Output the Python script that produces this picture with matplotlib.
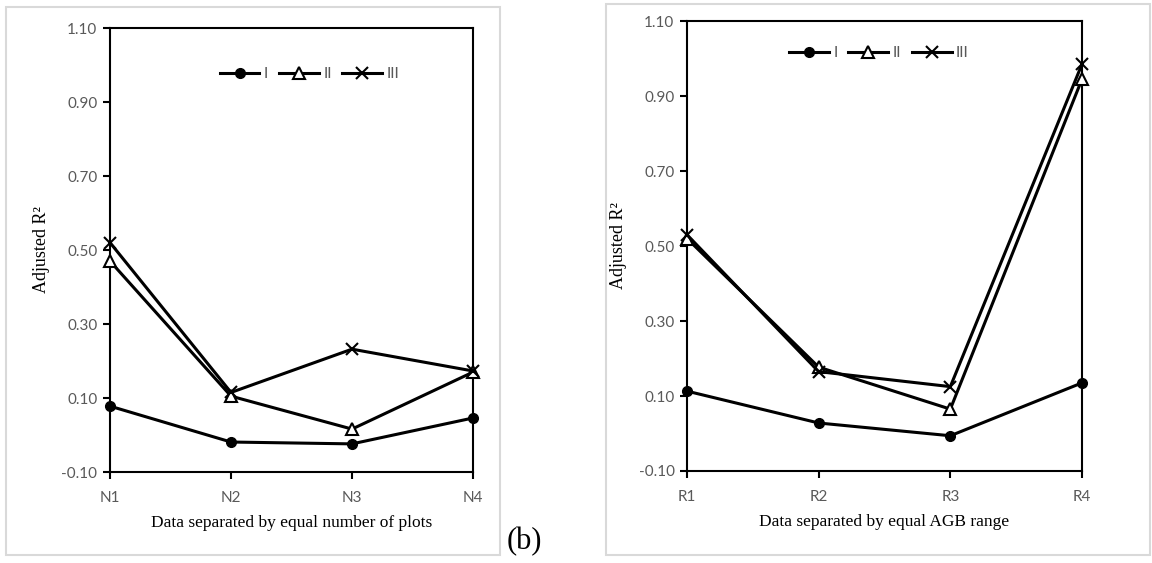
import matplotlib
matplotlib.use("Agg")
import matplotlib.pyplot as plt
from matplotlib.patches import Rectangle

# Adjusted R² per subset, for the three model sets
n_labels = ["N1", "N2", "N3", "N4"]
n_I = [0.078, -0.019, -0.024, 0.046]
n_II = [0.470, 0.105, 0.016, 0.170]
n_III = [0.520, 0.115, 0.232, 0.173]

r_labels = ["R1", "R2", "R3", "R4"]
r_I = [0.113, 0.028, -0.006, 0.135]
r_II = [0.520, 0.177, 0.065, 0.945]
r_III = [0.530, 0.165, 0.125, 0.985]

yticks = [-0.10, 0.10, 0.30, 0.50, 0.70, 0.90, 1.10]

W, H = 1152, 563
SERIF = "Liberation Serif"
TICKFONT = "Lato"
GREY = "#595959"

fig = plt.figure(figsize=(W / 100, H / 100), dpi=100)


def px_axes(x0, y0, x1, y1):
    return fig.add_axes([x0 / W, 1 - y1 / H, (x1 - x0) / W, (y1 - y0) / H])


def frame(x0, y0, x1, y1):
    fig.patches.append(Rectangle((x0 / W, 1 - y1 / H), (x1 - x0) / W, (y1 - y0) / H,
                                 transform=fig.transFigure, fill=False,
                                 edgecolor="#d9d9d9", lw=1.5))


def panel(ax, labels, s1, s2, s3, xlabel, leg_xy):
    x = list(range(len(labels)))
    ax.plot(x, s1, color="black", lw=2.2, marker="o", ms=7, label="I",
            clip_on=False, zorder=3)
    ax.plot(x, s2, color="black", lw=2.2, marker="^", ms=9, mfc="white",
            mew=1.5, label="II", clip_on=False, zorder=3)
    ax.plot(x, s3, color="black", lw=2.2, marker="x", ms=9, mew=1.5, label="III",
            clip_on=False, zorder=3)
    ax.set_xlim(0, len(labels) - 1)
    ax.set_ylim(-0.10, 1.10)
    ax.set_yticks(yticks)
    ax.set_yticklabels([f"{v:.2f}" for v in yticks], family=TICKFONT,
                       color=GREY, fontsize=11)
    ax.set_xticks(x)
    ax.set_xticklabels(labels, family=TICKFONT, color=GREY, fontsize=11)
    ax.tick_params(axis="y", direction="out", length=5, width=1.5, pad=4)
    ax.tick_params(axis="x", direction="out", length=5, width=1.5, pad=9)
    for s in ax.spines.values():
        s.set_linewidth(1.5)
    ax.set_xlabel(xlabel, family=SERIF, fontsize=12.5, labelpad=7)
    ax.set_ylabel("Adjusted R²", family=SERIF, fontsize=13, labelpad=8)
    leg = ax.legend(ncol=3, frameon=False, loc="center", bbox_to_anchor=leg_xy,
                    handlelength=2.6, handletextpad=0.3, columnspacing=0.7,
                    prop={"family": TICKFONT, "size": 11})
    for t in leg.get_texts():
        t.set_color(GREY)


frame(6, 7, 500, 555)
frame(606, 4, 1150, 555)

ax1 = px_axes(110, 28, 473, 472)
panel(ax1, n_labels, n_I, n_II, n_III,
      "Data separated by equal number of plots", (0.55, 0.896))

ax2 = px_axes(687, 21, 1082, 471)
panel(ax2, r_labels, r_I, r_II, r_III,
      "Data separated by equal AGB range", (0.486, 0.929))

fig.text(507 / W, 1 - 549 / H, "(b)", family=SERIF, fontsize=22, va="baseline")

fig.savefig("out.png", dpi=100)
